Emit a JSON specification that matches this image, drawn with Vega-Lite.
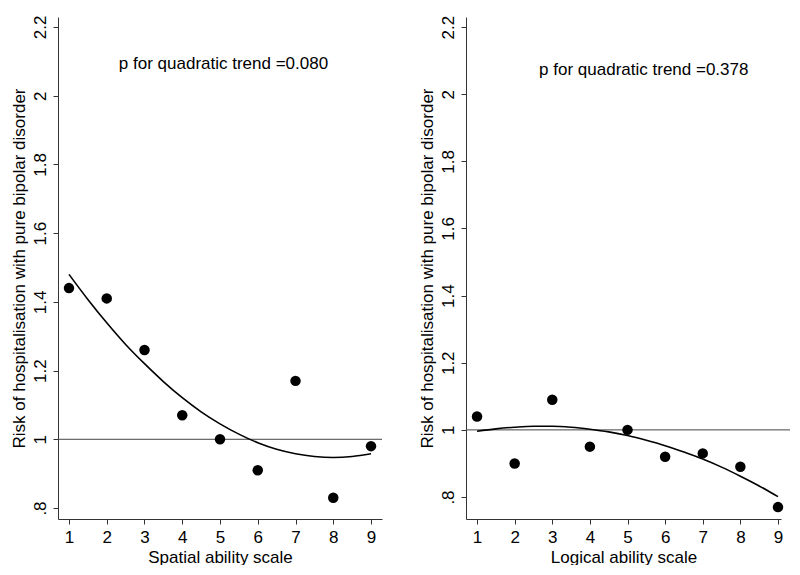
{
  "$schema": "https://vega.github.io/schema/vega-lite/v6.json",
  "padding": {"left": 10, "top": 15, "right": 5, "bottom": 0},
  "background": "white",
  "spacing": 35,
  "config": {
    "view": {"stroke": null},
    "font": "Liberation Sans",
    "axis": {
      "grid": false,
      "domainColor": "#333333",
      "tickColor": "#333333",
      "tickSize": 5,
      "labelFont": "Liberation Sans",
      "titleFont": "Liberation Sans",
      "labelFontSize": 17,
      "titleFontSize": 17,
      "titleFontWeight": "normal",
      "labelColor": "#000000",
      "titleColor": "#000000"
    }
  },
  "datasets": {
    "ptsL": [
      {"x": 1, "y": 1.44}, {"x": 2, "y": 1.41}, {"x": 3, "y": 1.26}, {"x": 4, "y": 1.07},
      {"x": 5, "y": 1.00}, {"x": 6, "y": 0.91}, {"x": 7, "y": 1.17}, {"x": 8, "y": 0.83}, {"x": 9, "y": 0.98}
    ],
    "fitL": [
      {"x": 1, "y": 1.48}, {"x": 1.5, "y": 1.407}, {"x": 2, "y": 1.339}, {"x": 2.5, "y": 1.276},
      {"x": 3, "y": 1.22}, {"x": 3.5, "y": 1.168}, {"x": 4, "y": 1.121}, {"x": 4.5, "y": 1.08},
      {"x": 5, "y": 1.045}, {"x": 5.5, "y": 1.015}, {"x": 6, "y": 0.99}, {"x": 6.5, "y": 0.971},
      {"x": 7, "y": 0.958}, {"x": 7.5, "y": 0.95}, {"x": 8, "y": 0.947}, {"x": 8.5, "y": 0.95}, {"x": 9, "y": 0.958}
    ],
    "ptsR": [
      {"x": 1, "y": 1.04}, {"x": 2, "y": 0.90}, {"x": 3, "y": 1.09}, {"x": 4, "y": 0.95},
      {"x": 5, "y": 1.00}, {"x": 6, "y": 0.92}, {"x": 7, "y": 0.93}, {"x": 8, "y": 0.89}, {"x": 9, "y": 0.77}
    ],
    "fitR": [
      {"x": 1, "y": 0.996}, {"x": 1.5, "y": 1.003}, {"x": 2, "y": 1.008}, {"x": 2.5, "y": 1.011},
      {"x": 3, "y": 1.011}, {"x": 3.5, "y": 1.008}, {"x": 4, "y": 1.002}, {"x": 4.5, "y": 0.994},
      {"x": 5, "y": 0.983}, {"x": 5.5, "y": 0.969}, {"x": 6, "y": 0.953}, {"x": 6.5, "y": 0.934},
      {"x": 7, "y": 0.913}, {"x": 7.5, "y": 0.889}, {"x": 8, "y": 0.862}, {"x": 8.5, "y": 0.833}, {"x": 9, "y": 0.801}
    ]
  },
  "resolve": {"scale": {"x": "independent", "y": "independent"}},
  "hconcat": [
    {
      "width": 324,
      "height": 502,
      "encoding": {
        "x": {
          "type": "quantitative",
          "scale": {"domain": [0.709, 9.291], "nice": false, "zero": false},
          "axis": {"values": [1,2,3,4,5,6,7,8,9], "title": "Spatial ability scale", "labelPadding": 5, "titlePadding": 4, "format": "d"}
        },
        "y": {
          "type": "quantitative",
          "scale": {"domain": [0.768, 2.229], "nice": false, "zero": false},
          "axis": {
            "values": [0.8, 1, 1.2, 1.4, 1.6, 1.8, 2, 2.2],
            "labelExpr": "datum.value < 0.9 ? '.8' : format(datum.value, '.1~f')",
            "labelAngle": 270, "labelAlign": "center", "labelBaseline": "alphabetic", "labelPadding": 8,
            "title": "Risk of hospitalisation with pure bipolar disorder",
            "titleBaseline": "alphabetic", "titlePadding": 7
          }
        }
      },
      "layer": [
        {
          "data": {"values": [{}]},
          "mark": {"type": "rule", "color": "#444444", "strokeWidth": 1},
          "encoding": {"y": {"datum": 1}}
        },
        {
          "data": {"name": "fitL"},
          "mark": {"type": "line", "color": "#000000", "strokeWidth": 1.6, "interpolate": "monotone"},
          "encoding": {"x": {"field": "x", "type": "quantitative"}, "y": {"field": "y", "type": "quantitative"}}
        },
        {
          "data": {"name": "ptsL"},
          "mark": {"type": "point", "filled": true, "shape": "circle", "color": "#000000", "opacity": 1, "size": 110},
          "encoding": {"x": {"field": "x", "type": "quantitative"}, "y": {"field": "y", "type": "quantitative"}}
        },
        {
          "data": {"values": [{"label": "p for quadratic trend =0.080"}]},
          "mark": {"type": "text", "align": "left", "baseline": "alphabetic", "fontSize": 17, "font": "Liberation Sans", "color": "#000000"},
          "encoding": {"x": {"datum": 2.32}, "y": {"datum": 2.077}, "text": {"field": "label"}}
        }
      ]
    },
    {
      "width": 315,
      "height": 502,
      "encoding": {
        "x": {
          "type": "quantitative",
          "scale": {"domain": [0.707, 9.08], "nice": false, "zero": false},
          "axis": {"values": [1,2,3,4,5,6,7,8,9], "title": "Logical ability scale", "labelPadding": 5, "titlePadding": 4, "format": "d"}
        },
        "y": {
          "type": "quantitative",
          "scale": {"domain": [0.7345, 2.23], "nice": false, "zero": false},
          "axis": {
            "values": [0.8, 1, 1.2, 1.4, 1.6, 1.8, 2, 2.2],
            "labelExpr": "datum.value < 0.9 ? '.8' : format(datum.value, '.1~f')",
            "labelAngle": 270, "labelAlign": "center", "labelBaseline": "alphabetic", "labelPadding": 8,
            "title": "Risk of hospitalisation with pure bipolar disorder",
            "titleBaseline": "alphabetic", "titlePadding": 7
          }
        }
      },
      "layer": [
        {
          "data": {"values": [{}]},
          "mark": {"type": "rule", "color": "#444444", "strokeWidth": 1},
          "encoding": {"y": {"datum": 1}, "x": {"datum": 0.707}, "x2": {"datum": 9.32}}
        },
        {
          "data": {"name": "fitR"},
          "mark": {"type": "line", "color": "#000000", "strokeWidth": 1.6, "interpolate": "monotone"},
          "encoding": {"x": {"field": "x", "type": "quantitative"}, "y": {"field": "y", "type": "quantitative"}}
        },
        {
          "data": {"name": "ptsR"},
          "mark": {"type": "point", "filled": true, "shape": "circle", "color": "#000000", "opacity": 1, "size": 110},
          "encoding": {"x": {"field": "x", "type": "quantitative"}, "y": {"field": "y", "type": "quantitative"}}
        },
        {
          "data": {"values": [{"label": "p for quadratic trend =0.378"}]},
          "mark": {"type": "text", "align": "left", "baseline": "alphabetic", "fontSize": 17, "font": "Liberation Sans", "color": "#000000"},
          "encoding": {"x": {"datum": 2.65}, "y": {"datum": 2.056}, "text": {"field": "label"}}
        }
      ]
    }
  ]
}
